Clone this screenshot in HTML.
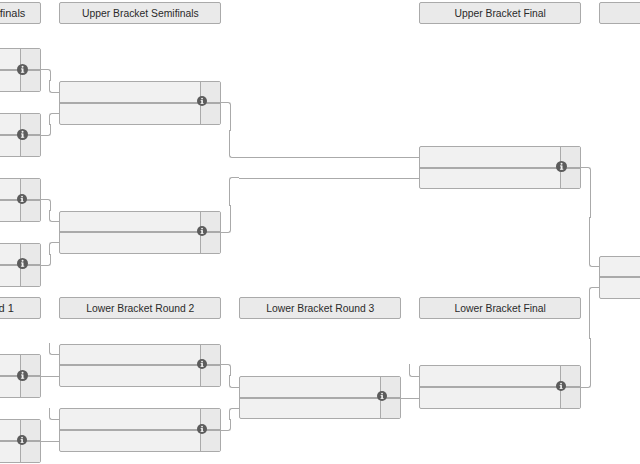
<!DOCTYPE html><html><head><meta charset="utf-8"><style>
html,body{margin:0;padding:0;}
body{width:640px;height:464px;overflow:hidden;background:#fff;position:relative;font-family:"Liberation Sans",sans-serif;}
.h{position:absolute;box-sizing:border-box;width:162px;height:22px;border:1px solid #aaa;border-radius:2px;background:#eaeaea;color:#2a2a2a;font-size:10px;line-height:21px;text-align:center;white-space:nowrap;}
.h span{display:inline-block;transform:scaleX(1.035);transform-origin:50% 50%;}
.m{position:absolute;box-sizing:border-box;width:162px;border:1px solid #aaa;border-radius:2px;background:#f1f1f1;}
.m .s{position:absolute;right:0;top:0;bottom:0;width:19px;background:#e9e9e9;border-left:1px solid #aaa;}
.m .l{position:absolute;left:0;right:0;height:2px;background:#aaa;}
.i{position:absolute;}
.c{position:absolute;box-sizing:border-box;border:0 solid #aaa;}
</style></head><body><div class="h" style="left:-121px;top:2px"><span style="position:absolute;right:15px;top:0;transform:scaleX(1.1);transform-origin:100% 50%">finals</span></div>
<div class="h" style="left:59px;top:2px"><span style="position:relative;left:0px">Upper Bracket Semifinals</span></div>
<div class="h" style="left:419px;top:2px"><span style="position:relative;left:0px">Upper Bracket Final</span></div>
<div class="h" style="left:599px;top:2px"><span style="position:relative;left:0px">Grand Final</span></div>
<div class="h" style="left:-121px;top:297px"><span style="position:absolute;right:26px;top:0;transform:scaleX(1.1);transform-origin:100% 50%">d 1</span></div>
<div class="h" style="left:59px;top:297px"><span style="position:relative;left:0px">Lower Bracket Round 2</span></div>
<div class="h" style="left:239px;top:297px"><span style="position:relative;left:0px">Lower Bracket Round 3</span></div>
<div class="h" style="left:419px;top:297px"><span style="position:relative;left:0px">Lower Bracket Final</span></div>
<div class="m" style="left:-121px;top:48px;height:44px"><div class="s"></div><div class="l" style="top:20px"></div></div>
<div class="m" style="left:-121px;top:113px;height:44px"><div class="s"></div><div class="l" style="top:20px"></div></div>
<div class="m" style="left:-121px;top:178px;height:44px"><div class="s"></div><div class="l" style="top:20px"></div></div>
<div class="m" style="left:-121px;top:243px;height:44px"><div class="s"></div><div class="l" style="top:20px"></div></div>
<div class="m" style="left:59px;top:81px;height:44px"><div class="s"></div><div class="l" style="top:20px"></div></div>
<div class="m" style="left:59px;top:211px;height:43px"><div class="s"></div><div class="l" style="top:19px"></div></div>
<div class="m" style="left:419px;top:146px;height:43px"><div class="s"></div><div class="l" style="top:20px"></div></div>
<div class="m" style="left:599px;top:256px;height:43px"><div class="s"></div><div class="l" style="top:19px"></div></div>
<div class="m" style="left:-121px;top:354px;height:44px"><div class="s"></div><div class="l" style="top:20px"></div></div>
<div class="m" style="left:-121px;top:419px;height:44px"><div class="s"></div><div class="l" style="top:20px"></div></div>
<div class="m" style="left:59px;top:344px;height:43px"><div class="s"></div><div class="l" style="top:19px"></div></div>
<div class="m" style="left:59px;top:408px;height:44px"><div class="s"></div><div class="l" style="top:20px"></div></div>
<div class="m" style="left:239px;top:376px;height:43px"><div class="s"></div><div class="l" style="top:20px"></div></div>
<div class="m" style="left:419px;top:365px;height:44px"><div class="s"></div><div class="l" style="top:20px"></div></div>
<div class="c" style="left:41px;top:69px;width:10px;height:12px;border-top-width:1px;border-right-width:1px;border-top-right-radius:3px;"></div>
<div class="c" style="left:49px;top:80px;width:10px;height:13px;border-left-width:1px;border-bottom-width:1px;border-bottom-left-radius:3px;"></div>
<div class="c" style="left:41px;top:124px;width:10px;height:12px;border-bottom-width:1px;border-right-width:1px;border-bottom-right-radius:3px;"></div>
<div class="c" style="left:49px;top:113px;width:10px;height:12px;border-left-width:1px;border-top-width:1px;border-top-left-radius:3px;"></div>
<div class="c" style="left:41px;top:199px;width:10px;height:12px;border-top-width:1px;border-right-width:1px;border-top-right-radius:3px;"></div>
<div class="c" style="left:49px;top:210px;width:10px;height:12px;border-left-width:1px;border-bottom-width:1px;border-bottom-left-radius:3px;"></div>
<div class="c" style="left:41px;top:254px;width:10px;height:12px;border-bottom-width:1px;border-right-width:1px;border-bottom-right-radius:3px;"></div>
<div class="c" style="left:49px;top:242px;width:10px;height:13px;border-left-width:1px;border-top-width:1px;border-top-left-radius:3px;"></div>
<div class="c" style="left:221px;top:102px;width:10px;height:29px;border-top-width:1px;border-right-width:1px;border-top-right-radius:3px;"></div>
<div class="c" style="left:229px;top:130px;width:190px;height:28px;border-left-width:1px;border-bottom-width:1px;border-bottom-left-radius:3px;"></div>
<div class="c" style="left:221px;top:205px;width:10px;height:28px;border-bottom-width:1px;border-right-width:1px;border-bottom-right-radius:3px;"></div>
<div class="c" style="left:229px;top:177px;width:10px;height:29px;border-left-width:1px;border-top-width:1px;border-top-left-radius:3px;"></div>
<div class="c" style="left:239px;top:178px;width:180px;height:1px;border-top-width:1px;"></div>
<div class="c" style="left:581px;top:167px;width:10px;height:51px;border-top-width:1px;border-right-width:1px;border-top-right-radius:3px;"></div>
<div class="c" style="left:589px;top:217px;width:10px;height:50px;border-left-width:1px;border-bottom-width:1px;border-bottom-left-radius:3px;"></div>
<div class="c" style="left:581px;top:338px;width:10px;height:50px;border-bottom-width:1px;border-right-width:1px;border-bottom-right-radius:3px;"></div>
<div class="c" style="left:589px;top:287px;width:10px;height:52px;border-left-width:1px;border-top-width:1px;border-top-left-radius:3px;"></div>
<div class="c" style="left:41px;top:376px;width:18px;height:1px;border-top-width:1px;"></div>
<div class="c" style="left:49px;top:343px;width:10px;height:12px;border-left-width:1px;border-bottom-width:1px;border-bottom-left-radius:3px;"></div>
<div class="c" style="left:41px;top:441px;width:18px;height:1px;border-top-width:1px;"></div>
<div class="c" style="left:49px;top:408px;width:10px;height:12px;border-left-width:1px;border-bottom-width:1px;border-bottom-left-radius:3px;"></div>
<div class="c" style="left:221px;top:364px;width:10px;height:12px;border-top-width:1px;border-right-width:1px;border-top-right-radius:3px;"></div>
<div class="c" style="left:229px;top:375px;width:10px;height:13px;border-left-width:1px;border-bottom-width:1px;border-bottom-left-radius:3px;"></div>
<div class="c" style="left:221px;top:419px;width:10px;height:12px;border-bottom-width:1px;border-right-width:1px;border-bottom-right-radius:3px;"></div>
<div class="c" style="left:229px;top:408px;width:10px;height:12px;border-left-width:1px;border-top-width:1px;border-top-left-radius:3px;"></div>
<div class="c" style="left:401px;top:398px;width:18px;height:1px;border-top-width:1px;"></div>
<div class="c" style="left:409px;top:364px;width:10px;height:13px;border-left-width:1px;border-bottom-width:1px;border-bottom-left-radius:3px;"></div>
<svg class="i" style="left:17px;top:64px;width:11px;height:11px" viewBox="0 0 11 11"><circle cx="5.5" cy="5.5" r="5.5" fill="#5c5c5c"/><g fill="#f2f2f2"><rect x="4.7" y="4.5" width="1.8" height="4" /><rect x="4" y="4.5" width="1.5" height="0.9"/><rect x="3.9" y="7.8" width="3.4" height="0.9"/><circle cx="5.55" cy="2.8" r="1"/></g></svg>
<svg class="i" style="left:17px;top:129px;width:11px;height:11px" viewBox="0 0 11 11"><circle cx="5.5" cy="5.5" r="5.5" fill="#5c5c5c"/><g fill="#f2f2f2"><rect x="4.7" y="4.5" width="1.8" height="4" /><rect x="4" y="4.5" width="1.5" height="0.9"/><rect x="3.9" y="7.8" width="3.4" height="0.9"/><circle cx="5.55" cy="2.8" r="1"/></g></svg>
<svg class="i" style="left:17px;top:194px;width:10px;height:10px" viewBox="0 0 11 11"><circle cx="5.5" cy="5.5" r="5.5" fill="#5c5c5c"/><g fill="#f2f2f2"><rect x="4.7" y="4.5" width="1.8" height="4" /><rect x="4" y="4.5" width="1.5" height="0.9"/><rect x="3.9" y="7.8" width="3.4" height="0.9"/><circle cx="5.55" cy="2.8" r="1"/></g></svg>
<svg class="i" style="left:17px;top:258px;width:11px;height:11px" viewBox="0 0 11 11"><circle cx="5.5" cy="5.5" r="5.5" fill="#5c5c5c"/><g fill="#f2f2f2"><rect x="4.7" y="4.5" width="1.8" height="4" /><rect x="4" y="4.5" width="1.5" height="0.9"/><rect x="3.9" y="7.8" width="3.4" height="0.9"/><circle cx="5.55" cy="2.8" r="1"/></g></svg>
<svg class="i" style="left:197px;top:96px;width:10px;height:10px" viewBox="0 0 11 11"><circle cx="5.5" cy="5.5" r="5.5" fill="#5c5c5c"/><g fill="#f2f2f2"><rect x="4.7" y="4.5" width="1.8" height="4" /><rect x="4" y="4.5" width="1.5" height="0.9"/><rect x="3.9" y="7.8" width="3.4" height="0.9"/><circle cx="5.55" cy="2.8" r="1"/></g></svg>
<svg class="i" style="left:197px;top:226px;width:10px;height:10px" viewBox="0 0 11 11"><circle cx="5.5" cy="5.5" r="5.5" fill="#5c5c5c"/><g fill="#f2f2f2"><rect x="4.7" y="4.5" width="1.8" height="4" /><rect x="4" y="4.5" width="1.5" height="0.9"/><rect x="3.9" y="7.8" width="3.4" height="0.9"/><circle cx="5.55" cy="2.8" r="1"/></g></svg>
<svg class="i" style="left:556px;top:161px;width:11px;height:11px" viewBox="0 0 11 11"><circle cx="5.5" cy="5.5" r="5.5" fill="#5c5c5c"/><g fill="#f2f2f2"><rect x="4.7" y="4.5" width="1.8" height="4" /><rect x="4" y="4.5" width="1.5" height="0.9"/><rect x="3.9" y="7.8" width="3.4" height="0.9"/><circle cx="5.55" cy="2.8" r="1"/></g></svg>
<svg class="i" style="left:17px;top:370px;width:11px;height:11px" viewBox="0 0 11 11"><circle cx="5.5" cy="5.5" r="5.5" fill="#5c5c5c"/><g fill="#f2f2f2"><rect x="4.7" y="4.5" width="1.8" height="4" /><rect x="4" y="4.5" width="1.5" height="0.9"/><rect x="3.9" y="7.8" width="3.4" height="0.9"/><circle cx="5.55" cy="2.8" r="1"/></g></svg>
<svg class="i" style="left:17px;top:435px;width:10px;height:10px" viewBox="0 0 11 11"><circle cx="5.5" cy="5.5" r="5.5" fill="#5c5c5c"/><g fill="#f2f2f2"><rect x="4.7" y="4.5" width="1.8" height="4" /><rect x="4" y="4.5" width="1.5" height="0.9"/><rect x="3.9" y="7.8" width="3.4" height="0.9"/><circle cx="5.55" cy="2.8" r="1"/></g></svg>
<svg class="i" style="left:197px;top:359px;width:10px;height:10px" viewBox="0 0 11 11"><circle cx="5.5" cy="5.5" r="5.5" fill="#5c5c5c"/><g fill="#f2f2f2"><rect x="4.7" y="4.5" width="1.8" height="4" /><rect x="4" y="4.5" width="1.5" height="0.9"/><rect x="3.9" y="7.8" width="3.4" height="0.9"/><circle cx="5.55" cy="2.8" r="1"/></g></svg>
<svg class="i" style="left:197px;top:424px;width:10px;height:10px" viewBox="0 0 11 11"><circle cx="5.5" cy="5.5" r="5.5" fill="#5c5c5c"/><g fill="#f2f2f2"><rect x="4.7" y="4.5" width="1.8" height="4" /><rect x="4" y="4.5" width="1.5" height="0.9"/><rect x="3.9" y="7.8" width="3.4" height="0.9"/><circle cx="5.55" cy="2.8" r="1"/></g></svg>
<svg class="i" style="left:377px;top:391px;width:10px;height:10px" viewBox="0 0 11 11"><circle cx="5.5" cy="5.5" r="5.5" fill="#5c5c5c"/><g fill="#f2f2f2"><rect x="4.7" y="4.5" width="1.8" height="4" /><rect x="4" y="4.5" width="1.5" height="0.9"/><rect x="3.9" y="7.8" width="3.4" height="0.9"/><circle cx="5.55" cy="2.8" r="1"/></g></svg>
<svg class="i" style="left:556px;top:381px;width:10px;height:10px" viewBox="0 0 11 11"><circle cx="5.5" cy="5.5" r="5.5" fill="#5c5c5c"/><g fill="#f2f2f2"><rect x="4.7" y="4.5" width="1.8" height="4" /><rect x="4" y="4.5" width="1.5" height="0.9"/><rect x="3.9" y="7.8" width="3.4" height="0.9"/><circle cx="5.55" cy="2.8" r="1"/></g></svg></body></html>
